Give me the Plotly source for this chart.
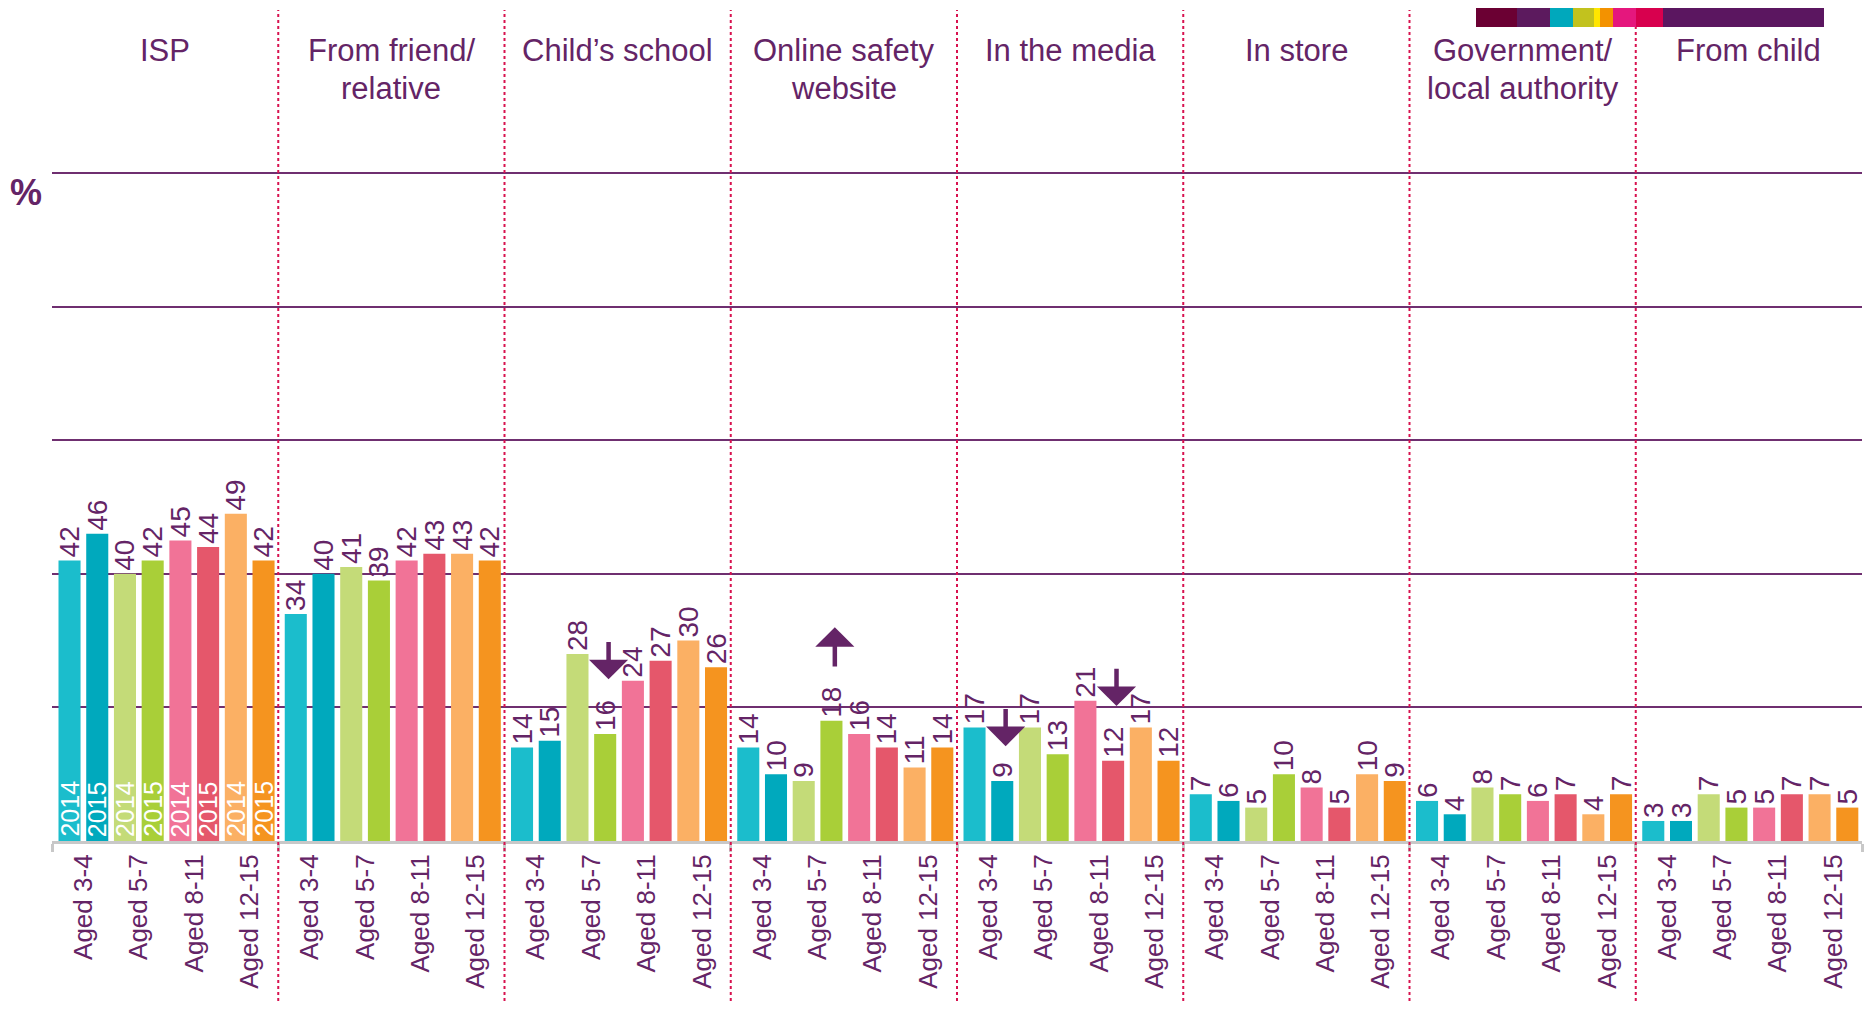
import plotly.graph_objects as go

# panel titles (sources of information)
sources = ['ISP', 'From friend/<br>relative', 'Child\u2019s school', 'Online safety<br>website',
           'In the media', 'In store', 'Government/<br>local authority', 'From child']
age_groups = ['Aged 3-4', 'Aged 5-7', 'Aged 8-11', 'Aged 12-15']
years = ['2014', '2015']

# values per source, order: 3-4 2014, 3-4 2015, 5-7 2014, 5-7 2015, 8-11 2014, 8-11 2015, 12-15 2014, 12-15 2015
isp = [42, 46, 40, 42, 45, 44, 49, 42]
friend = [34, 40, 41, 39, 42, 43, 43, 42]
school = [14, 15, 28, 16, 24, 27, 30, 26]
safety_site = [14, 10, 9, 18, 16, 14, 11, 14]
media = [17, 9, 17, 13, 21, 12, 17, 12]
store = [7, 6, 5, 10, 8, 5, 10, 9]
government = [6, 4, 8, 7, 6, 7, 4, 7]
child = [3, 3, 7, 5, 5, 7, 7, 5]

# significant changes 2014 -> 2015: (source index, bar index, direction)
sig_changes = [(2, 3, 'down'), (3, 3, 'up'), (4, 1, 'down'), (4, 5, 'down')]

all_values = [isp, friend, school, safety_site, media, store, government, child]

bar_colors = ['#1bbdcc', '#00a9bd', '#c4db78', '#a9cf38',
              '#f17397', '#e5576b', '#fbb064', '#f5941f']
purple = '#642466'
font_family = 'Arial, Liberation Sans, sans-serif'

# page body has an 8px margin, so the figure is sized to fit inside it
OFF = 8
W, H = 1856, 993
ML, MR, MT, MB = 52 - OFF, 2, 171 - OFF, 1001 - 841


def px_x(x):
    # page pixel -> paper x
    return (x - OFF - ML) / (W - ML - MR)


def px_y(y):
    # page pixel -> paper y
    return (H - MB - (y - OFF)) / (H - MT - MB)


def bar_x(p, i):
    # bars sit slightly tighter than the panel slots
    return 8 * p + 3.55 + (i - 3.5) * 0.98


fig = go.Figure()

n_src = len(sources)
for i in range(8):
    xs = [bar_x(p, i) for p in range(n_src)]
    ys = [all_values[p][i] for p in range(n_src)]
    fig.add_trace(go.Bar(
        x=xs,
        y=ys,
        width=0.78,
        marker_color=bar_colors[i],
        marker_line_width=0,
        text=[str(v) for v in ys],
        textposition='outside',
        textangle=-90,
        constraintext='none',
        cliponaxis=False,
        textfont=dict(size=28, color=purple, family=font_family),
        name=f'{age_groups[i // 2]} {years[i % 2]}',
        showlegend=False,
    ))

annotations = []

# year labels inside the ISP bars
for i in range(8):
    annotations.append(dict(
        x=bar_x(0, i), y=0, xref='x', yref='y', text=years[i % 2], textangle=-90,
        showarrow=False, yanchor='bottom', yshift=2,
        font=dict(size=25, color='white', family=font_family)
    ))

# panel titles
for p, title in enumerate(sources):
    lines = title.split('<br>')
    for li, line in enumerate(lines):
        annotations.append(dict(
            x=8 * p + 3.5, y=px_y(51 + 38 * li), xref='x', yref='paper',
            text=line, showarrow=False, xanchor='center', yanchor='middle',
            font=dict(size=31, color=purple, family=font_family)
        ))

# % label
annotations.append(dict(
    x=px_x(26), y=px_y(192), xref='paper', yref='paper', text='<b>%</b>',
    showarrow=False, xanchor='center', yanchor='middle',
    font=dict(size=36, color=purple, family=font_family)
))

# significance arrows
for p, i, direction in sig_changes:
    v = all_values[p][i]
    off = 8.2 if v >= 10 else 5.2
    if direction == 'down':
        tip, tail = v + off, v + off + 5.8
    else:
        tip, tail = v + off + 5.8, v + off - 0.3
    xa = bar_x(p, i) + 0.12
    annotations.append(dict(
        x=xa, y=tip, ax=xa, ay=tail,
        xref='x', yref='y', axref='x', ayref='y', text='',
        showarrow=True, arrowhead=1, arrowsize=1.45, arrowwidth=4.5,
        arrowcolor=purple, standoff=0
    ))

shapes = []
# dotted panel separators
for p in range(1, n_src):
    shapes.append(dict(
        type='line', xref='x', yref='paper', x0=8 * p - 0.5, x1=8 * p - 0.5,
        y0=px_y(1001), y1=px_y(10),
        line=dict(color='#d8124f', width=2, dash='dot')
    ))

# decorative colour strip top right
strip_edges = [1476, 1517, 1550, 1573, 1594, 1600, 1613, 1636, 1663, 1824]
strip_colors = ['#6b0033', '#5c1a5e', '#00a8bc', '#c2c21e', '#ffe600',
                '#f39200', '#e5177d', '#d8004e', '#5b1660']
for k, c in enumerate(strip_colors):
    shapes.append(dict(
        type='rect', xref='paper', yref='paper',
        x0=px_x(strip_edges[k]), x1=px_x(strip_edges[k + 1]),
        y0=px_y(27), y1=px_y(7), fillcolor=c, line_width=0
    ))

tick_vals = [(bar_x(p, 2 * k) + bar_x(p, 2 * k + 1)) / 2 for p in range(n_src) for k in range(4)]
tick_text = [age_groups[k] for p in range(n_src) for k in range(4)]

fig.update_layout(
    width=W, height=H,
    margin=dict(l=ML, r=MR, t=MT, b=MB, pad=0),
    barmode='overlay',
    plot_bgcolor='white',
    paper_bgcolor='white',
    annotations=annotations,
    shapes=shapes,
    xaxis=dict(
        range=[-0.5, 8 * n_src - 0.5],
        tickmode='array', tickvals=tick_vals, ticktext=tick_text,
        tickangle=-90, ticks='',
        tickfont=dict(size=26, color=purple, family=font_family),
        showgrid=False, zeroline=False,
        showline=True, linecolor='#c8c8c8', linewidth=3,
        minor=dict(tickmode='array', tickvals=[8 * p - 0.5 for p in range(n_src + 1)],
                   ticks='outside', ticklen=8, tickwidth=3, tickcolor='#c8c8c8',
                   showgrid=False),
    ),
    yaxis=dict(
        range=[0, 100.3],
        tickmode='array', tickvals=[20, 40, 60, 80, 100],
        showticklabels=False, ticks='',
        showgrid=True, gridcolor='#6f2f70', gridwidth=2,
        zeroline=False, showline=False,
    ),
)

fig.write_html("out.html")
